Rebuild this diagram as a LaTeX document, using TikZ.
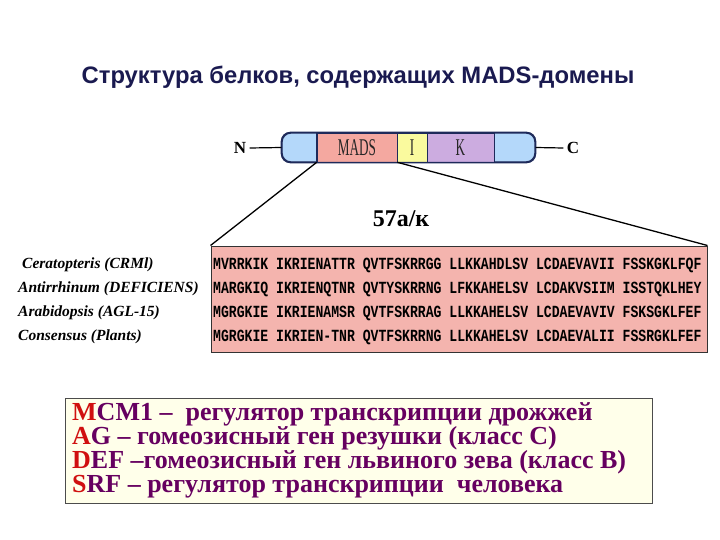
\documentclass[tikz,border=0pt]{standalone}
\usepackage{fontspec}
\setmainfont{Liberation Serif}
\newfontfamily\titlefont{Liberation Sans}
\newfontfamily\seqfont[FakeStretch=0.772]{Liberation Mono}
\newfontfamily\segfont[FakeStretch=0.55]{Liberation Serif}
\usepackage{tikz}
\usetikzlibrary{positioning,calc}
\definecolor{titleblue}{HTML}{1A1A50}
\definecolor{barblue}{HTML}{B4D8FA}
\definecolor{barline}{HTML}{1E2A5A}
\definecolor{madsred}{HTML}{F4A8A0}
\definecolor{iyellow}{HTML}{FAFA9E}
\definecolor{kviolet}{HTML}{CCACE0}
\definecolor{seqpink}{HTML}{F4B4AE}
\definecolor{legcream}{HTML}{FFFFEA}
\definecolor{legpurple}{HTML}{660060}
\definecolor{legred}{HTML}{D01010}
\newcommand{\firstl}[1]{\textcolor{legred}{#1}}

\tikzset{
  seg/.style={draw=barline, line width=0.6pt, minimum height=29pt, inner sep=0pt,
    font=\segfont\fontsize{24}{24}\selectfont, text=black!85},
  species/.style={anchor=west, inner sep=0pt, font=\fontsize{15.5}{18}\selectfont\bfseries\itshape},
  seqrow/.style={anchor=west, inner sep=0pt, font=\seqfont\fontsize{17}{18}\selectfont\bfseries},
  legline/.style={anchor=base west, inner sep=0pt, text=legpurple,
    font=\fontsize{26}{26}\selectfont\bfseries},
  zoomline/.style={line width=1.3pt, black}
}

\begin{document}
\begin{tikzpicture}[x=1pt,y=-1pt]
  \useasboundingbox (0,0) rectangle (720,540);

  % title
  \node[font=\titlefont\fontsize{23.8}{26}\selectfont\bfseries, text=titleblue] (title) at (358,77)
    {Структура белков, содержащих MADS-домены};

  % protein bar
  \node[draw=barline, line width=1.3pt, fill=barblue, rounded corners=9pt,
    minimum width=253pt, minimum height=29pt] (bar) at (408.5,147.5) {};
  \node[seg, fill=madsred, minimum width=80pt] (mads) at (357,147.5) {MADS};
  \node[seg, fill=iyellow, minimum width=30pt] (idom) at (412,147.5) {I};
  \node[seg, fill=kviolet, minimum width=67pt] (kdom) at (460.5,147.5) {K};
  \draw[barline, line width=1.3pt, rounded corners=9pt] (bar.south west) rectangle (bar.north east);
  \draw[barline, line width=1.3pt] (mads.north west) -- (mads.south west);

  \node[font=\fontsize{17}{17}\selectfont\bfseries] (nterm) at (240,148) {N};
  \node[font=\fontsize{17}{17}\selectfont\bfseries] (cterm) at (573,148) {C};
  \draw[line width=1.2pt] (nterm.east) -- (bar.west);
  \draw[line width=1.2pt] (bar.east) -- (cterm.west);

  % alignment box
  \node[draw=black!80, line width=1pt, fill=seqpink, minimum width=496pt, minimum height=106pt,
    inner sep=0pt] (seq) at (459,299) {};
  \draw[zoomline] (mads.south west) -- (seq.north west);
  \draw[zoomline] (mads.south east) -- (seq.north east);
  \node[font=\fontsize{24}{24}\selectfont\bfseries] (len) at (401,219) {57а/к};

  \foreach \x/\sp/\sq [count=\i] in {
    22/{Ceratopteris (CRMl)}/{MVRRKIK IKRIENATTR QVTFSKRRGG LLKKAHDLSV LCDAEVAVII FSSKGKLFQF},
    18/{Antirrhinum (DEFICIENS)}/{MARGKIQ IKRIENQTNR QVTYSKRRNG LFKKAHELSV LCDAKVSIIM ISSTQKLHEY},
    18/{Arabidopsis (AGL-15)}/{MGRGKIE IKRIENAMSR QVTFSKRRAG LLKKAHELSV LCDAEVAVIV FSKSGKLFEF},
    18/{Consensus (Plants)}/{MGRGKIE IKRIEN-TNR QVTFSKRRNG LLKKAHELSV LCDAEVALII FSSRGKLFEF}} {
    \node[species] (sp\i) at (\x,241+24*\i) {\sp};
    \node[seqrow] (row\i) at (213,241+24*\i) {\sq};
  }

  % legend
  \node[draw=black!70, line width=0.8pt, fill=legcream, minimum width=587pt, minimum height=105pt,
    inner sep=0pt] (legend) at (358.5,450.5) {};
  \foreach \ln [count=\i] in {
    {\firstl{M}CM1 –\ \ регулятор транскрипции дрожжей},
    {\firstl{A}G – гомеозисный ген резушки (класс С)},
    {\firstl{D}EF –гомеозисный ген львиного зева (класс В)},
    {\firstl{S}RF – регулятор транскрипции\ \ человека}} {
    \node[legline] (leg\i) at (72,396+24*\i) {\ln};
  }
\end{tikzpicture}
\end{document}
